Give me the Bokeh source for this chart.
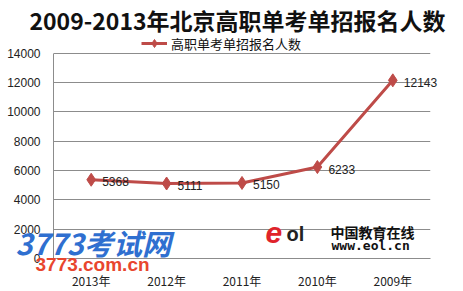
from bokeh.plotting import figure
from bokeh.models import (FactorRange, Range1d, FixedTicker, Legend, LegendItem,
                          ColumnDataSource)
from bokeh.core.properties import value
from bokeh.embed import file_html
from bokeh.resources import INLINE

# ---- data ----
years = ["2013年", "2012年", "2011年", "2010年", "2009年"]
counts = [5368, 5111, 5150, 6233, 12143]
count_labels = [str(v) for v in counts]
y_ticks = [0, 2000, 4000, 6000, 8000, 10000, 12000, 14000]
title_text = "2009-2013年北京高职单考单招报名人数"
series_name = "高职单考单招报名人数"

LINE = "#BE4B48"
GRID = "#8C8C8C"
CJK = "Noto Sans CJK SC"

W, H = 463, 291
left, right, bottom = 53, 33, 31
frame_h = H - bottom
ymax_px = 207
y_top = 14000 * frame_h / ymax_px
band = (W - left - right) / len(years)


def sx(px):  # canvas pixel -> synthetic x coordinate
    return (px - left) / band


def sy(py):  # canvas pixel -> data y coordinate
    return (frame_h - py) * 14000 / ymax_px


p = figure(width=W, height=H, x_range=FactorRange(factors=years),
           y_range=Range1d(0, y_top), output_backend="svg",
           toolbar_location=None, min_border_left=left, min_border_right=right,
           min_border_bottom=bottom, min_border_top=0)
p.outline_line_color = None
p.background_fill_color = "white"
p.border_fill_color = "white"

p.xgrid.grid_line_color = None
p.ygrid.grid_line_color = GRID
p.yaxis.ticker = FixedTicker(ticks=y_ticks)
p.yaxis.bounds = (0, 14000)
for ax in (p.xaxis, p.yaxis):
    ax.axis_line_color = GRID
    ax.major_tick_line_color = None
    ax.minor_tick_line_color = None
    ax.major_tick_out = 0
    ax.major_tick_in = 0
    ax.minor_tick_out = 0
    ax.major_label_text_font_size = "12px"
    ax.major_label_text_color = "#222222"
p.yaxis.major_label_text_font = "Liberation Sans"
p.yaxis.major_label_standoff = 13
p.xaxis.major_label_text_font = CJK
p.xaxis.major_label_standoff = 13

src = ColumnDataSource(dict(x=years, y=counts, t=count_labels))
ln = p.line("x", "y", source=src, line_color=LINE, line_width=3)
sc = p.scatter("x", "y", source=src, marker="diamond", size=13,
               fill_color=LINE, line_color=LINE)

p.text("x", "y", text="t", source=src, x_offset=11, y_offset=2,
       text_baseline="middle", text_font=value("Liberation Sans"),
       text_font_size="12px", text_color="#222222", level="overlay")

legend = Legend(items=[LegendItem(label=series_name, renderers=[ln, sc])],
                location=(88, 205), orientation="horizontal",
                border_line_alpha=0, background_fill_alpha=0,
                glyph_width=26, glyph_height=20, label_standoff=4,
                padding=0, margin=0, spacing=0,
                label_text_font=CJK, label_text_font_size="13px",
                label_text_color="#111111")
p.add_layout(legend, "center")


def overlay_text(txt, px, py, font, size, color, style="normal", align="left"):
    p.text(x=[sx(px)], y=[sy(py)], text=[txt], text_align=align,
           text_baseline="middle", text_font=value(font),
           text_font_style=style, text_font_size=size, text_color=color,
           level="overlay")


overlay_text(title_text, 237, 20, CJK, "23px", "#111111", "bold", "center")
overlay_text("3773考试网", 15, 243, CJK, "29px", "#2F6FD0", "bold italic")
overlay_text("3773.com.cn", 35, 266, "Liberation Sans", "19px", "#E8462E", "bold")
overlay_text("e", 265, 234, "Liberation Sans", "30px", "#E0232A", "bold italic")
overlay_text("ol", 286, 235, "Liberation Sans", "20px", "#222222", "bold")
overlay_text("中国教育在线", 330, 233, CJK, "14px", "#111111", "bold")
overlay_text("www.eol.cn", 331, 247, "DejaVu Sans Mono", "13px", "#111111", "bold")

open("out.html", "w").write(file_html(p, INLINE))
